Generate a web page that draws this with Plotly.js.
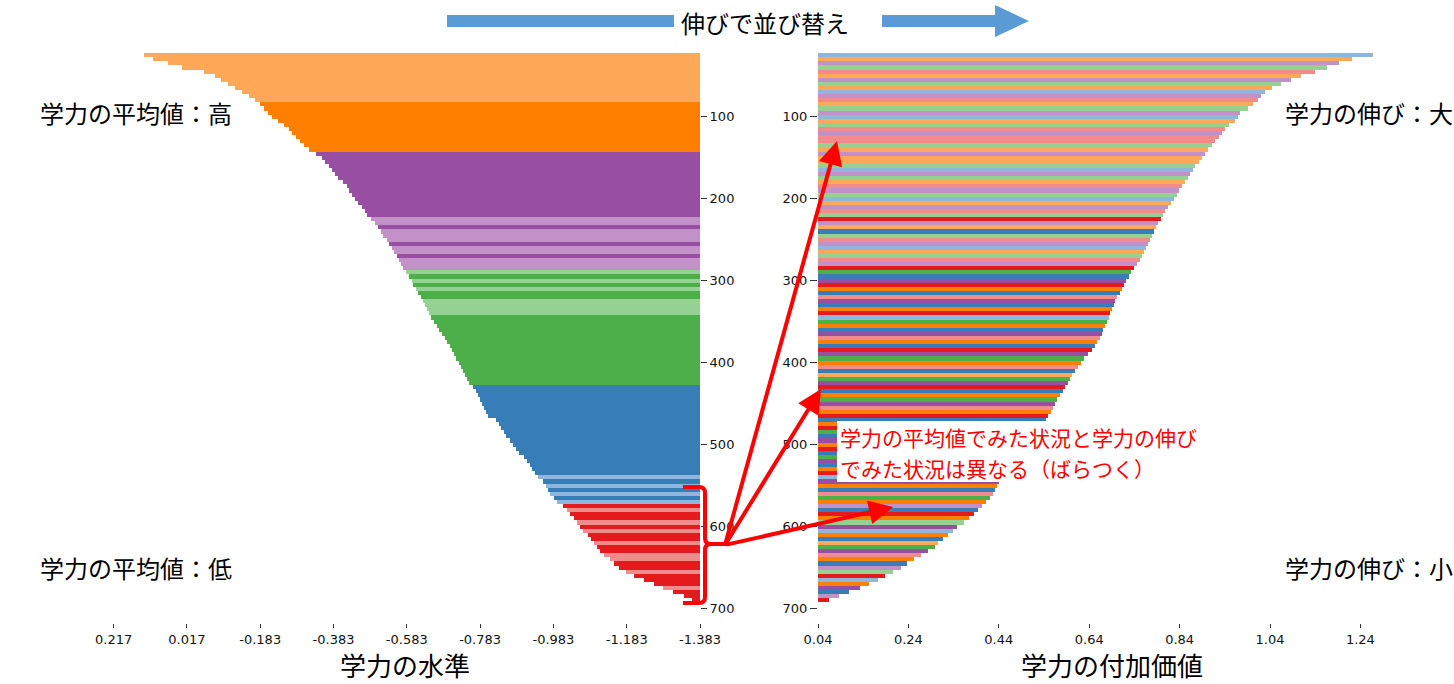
<!DOCTYPE html>
<html>
<head>
<meta charset="utf-8">
<script src="https://cdn.plot.ly/plotly-3.0.1.min.js"></script>
<style>html,body{margin:0;padding:0;background:#fff;}#chart{width:1454px;height:684px;}</style>
</head>
<body>
<div id="chart"></div>
<script>
// ---- data ----
const rank = [25,30,35,40,45,50,55,60,65,70,
75,80,85,90,95,100,105,110,115,120,
125,130,135,140,145,150,155,160,165,170,
175,180,185,190,195,200,205,210,215,220,
225,230,235,240,245,250,255,260,265,270,
275,280,285,290,295,300,305,310,315,320,
325,330,335,340,345,350,355,360,365,370,
375,380,385,390,395,400,405,410,415,420,
425,430,435,440,445,450,455,460,465,470,
475,480,485,490,495,500,505,510,515,520,
525,530,535,540,545,550,555,560,565,570,
575,580,585,590,595,600,605,610,615,620,
625,630,635,640,645,650,655,660,665,670,
675,680,685,690];

// 学力の水準 (sorted by level)
const levelValues = [0.134,0.110,0.069,0.030,-0.030,-0.060,-0.076,-0.095,-0.114,-0.133,
-0.152,-0.169,-0.182,-0.193,-0.204,-0.215,-0.232,-0.248,-0.262,-0.270,
-0.281,-0.292,-0.303,-0.316,-0.335,-0.352,-0.360,-0.371,-0.379,-0.387,
-0.395,-0.409,-0.420,-0.425,-0.434,-0.442,-0.450,-0.461,-0.469,-0.474,
-0.485,-0.496,-0.504,-0.513,-0.518,-0.529,-0.534,-0.543,-0.548,-0.556,
-0.562,-0.567,-0.573,-0.581,-0.589,-0.597,-0.600,-0.608,-0.614,-0.622,
-0.627,-0.633,-0.638,-0.644,-0.649,-0.657,-0.665,-0.671,-0.679,-0.687,
-0.693,-0.701,-0.706,-0.712,-0.717,-0.725,-0.731,-0.736,-0.742,-0.747,
-0.753,-0.764,-0.772,-0.777,-0.783,-0.788,-0.794,-0.799,-0.805,-0.826,
-0.835,-0.840,-0.848,-0.854,-0.865,-0.873,-0.881,-0.889,-0.903,-0.911,
-0.919,-0.925,-0.933,-0.941,-0.955,-0.963,-0.968,-0.974,-0.985,-0.993,
-1.009,-1.020,-1.028,-1.039,-1.047,-1.056,-1.064,-1.077,-1.086,-1.094,
-1.102,-1.110,-1.121,-1.137,-1.148,-1.162,-1.181,-1.203,-1.230,-1.258,
-1.282,-1.309,-1.339,-1.361];

// 学力の付加価値 (sorted by growth)
const growthValues = [1.268,1.221,1.193,1.166,1.140,1.109,1.086,1.064,1.044,1.029,
1.020,1.013,1.002,0.991,0.974,0.969,0.963,0.949,0.940,0.934,
0.927,0.918,0.912,0.903,0.896,0.890,0.883,0.874,0.870,0.863,
0.859,0.852,0.845,0.839,0.834,0.828,0.821,0.814,0.808,0.803,
0.799,0.792,0.788,0.783,0.779,0.775,0.770,0.766,0.761,0.757,
0.752,0.746,0.739,0.732,0.728,0.721,0.717,0.713,0.708,0.702,
0.697,0.695,0.690,0.686,0.684,0.679,0.675,0.671,0.668,0.664,
0.657,0.653,0.646,0.637,0.628,0.622,0.615,0.609,0.602,0.598,
0.593,0.586,0.582,0.575,0.569,0.564,0.560,0.555,0.549,0.544,
0.540,0.531,0.522,0.513,0.505,0.496,0.489,0.482,0.474,0.467,
0.460,0.454,0.449,0.445,0.440,0.436,0.432,0.427,0.421,0.412,
0.403,0.394,0.385,0.374,0.363,0.348,0.339,0.328,0.317,0.305,
0.299,0.283,0.268,0.252,0.237,0.224,0.206,0.188,0.173,0.153,
0.133,0.109,0.086,0.064];

// group index per row (0 red,1 light red,2 blue,3 light blue,4 green,5 light green,6 purple,7 light purple,8 orange,9 light orange)
const levelGroups = [9,9,9,9,9,9,9,9,9,9,9,9,
8,8,8,8,8,8,8,8,8,8,8,8,
6,6,6,6,6,6,6,6,6,6,6,6,6,6,6,6,
7,7,6,7,7,7,6,7,7,6,7,7,7,
5,4,5,4,5,4,4,5,5,5,5,
4,4,4,4,4,4,4,4,4,4,4,4,4,4,4,4,4,
2,2,2,2,2,2,2,2,2,2,2,2,2,2,2,2,2,2,2,2,2,2,
3,2,3,2,3,2,3,
0,1,0,0,1,0,1,0,0,1,0,0,1,1,0,0,1,0,0,0,1,0,0,0];

const growthGroups = [3,9,7,5,1,9,7,5,9,3,
7,1,9,5,7,3,9,5,1,7,
1,1,5,9,7,9,9,5,3,7,
5,9,1,7,5,3,9,7,1,5,
0,7,9,2,5,1,7,3,9,5,
1,7,0,4,2,6,0,8,2,1,
6,2,8,0,3,4,8,2,6,1,
8,2,0,6,4,8,1,2,9,4,
6,0,2,8,4,6,1,8,0,2,
8,0,4,2,6,8,0,2,4,6,
2,8,0,3,6,8,2,1,4,8,
7,2,0,8,5,6,3,8,2,9,
4,6,1,8,2,7,5,0,3,8,
6,2,7,0];

const groupColors = ['#e41a1c','#f18b8c','#377eb8','#8fb6dc','#4daf4a','#94d192','#984ea3','#c291c8','#ff7f00','#ffa958'];

const levelTicks = [0.217,0.017,-0.183,-0.383,-0.583,-0.783,-0.983,-1.183,-1.383];
const levelTickText = ['0.217','0.017','-0.183','-0.383','-0.583','-0.783','-0.983','-1.183','-1.383'];
const growthTicks = [0.04,0.24,0.44,0.64,0.84,1.04,1.24];
const growthTickText = ['0.04','0.24','0.44','0.64','0.84','1.04','1.24'];
const rankTicks = [100,200,300,400,500,600,700];

// ---- layout helpers (pixel -> paper) ----
const W = 1454, H = 684;
const px = x => x / W;
const py = y => 1 - y / H;

const levelBase = -1.383;
const growthBase = 0.04;

const traces = [
  {
    type: 'bar', orientation: 'h',
    y: rank,
    x: levelValues.map(v => v - levelBase),
    base: levelBase,
    width: 5,
    marker: {color: levelGroups.map(g => groupColors[g]), line: {width: 0}},
    xaxis: 'x', yaxis: 'y', hoverinfo: 'skip'
  },
  {
    type: 'bar', orientation: 'h',
    y: rank,
    x: growthValues.map(v => v - growthBase),
    base: growthBase,
    width: 5,
    marker: {color: growthGroups.map(g => groupColors[g]), line: {width: 0}},
    xaxis: 'x2', yaxis: 'y2', hoverinfo: 'skip'
  }
];

const tickFont = {family: 'DejaVu Sans', size: 13, color: '#111'};
const jp = 'Noto Sans CJK JP';
const yDom = [py(625), py(40)];
const yRange = [720, 6.5];

const commonAxis = {showgrid: false, zeroline: false, showline: false, ticks: 'outside', ticklen: 5, tickwidth: 1, tickcolor: '#333', tickfont: tickFont};

const layout = {
  width: W, height: H,
  margin: {l: 0, r: 0, t: 0, b: 0, pad: 0},
  paper_bgcolor: '#fff', plot_bgcolor: '#fff',
  showlegend: false,
  bargap: 0,
  font: {family: jp},
  xaxis: Object.assign({}, commonAxis, {
    domain: [px(40), px(700)], range: [-1.383 + 660/366.5, -1.383],
    tickvals: levelTicks, ticktext: levelTickText,
    anchor: 'free', position: py(623), ticklen: 4
  }),
  yaxis: Object.assign({}, commonAxis, {
    domain: yDom, range: yRange, anchor: 'x', side: 'right',
    tickvals: rankTicks, ticklen: 6
  }),
  xaxis2: Object.assign({}, commonAxis, {
    domain: [px(818), 1], range: [0.04, 0.04 + 636/452],
    tickvals: growthTicks, ticktext: growthTickText,
    anchor: 'free', position: py(623), ticklen: 4
  }),
  yaxis2: Object.assign({}, commonAxis, {
    domain: yDom, range: yRange, anchor: 'x2', side: 'left',
    tickvals: rankTicks, ticklen: 7
  }),
  shapes: [
    // blue arrow at top
    {type: 'rect', xref: 'paper', yref: 'paper', x0: px(447), x1: px(674), y0: py(27), y1: py(15), fillcolor: '#5b9bd5', line: {width: 0}},
    {type: 'rect', xref: 'paper', yref: 'paper', x0: px(882), x1: px(996), y0: py(27), y1: py(15), fillcolor: '#5b9bd5', line: {width: 0}},
    {type: 'path', xref: 'paper', yref: 'paper',
      path: `M ${px(995)} ${py(5)} L ${px(1029)} ${py(21)} L ${px(995)} ${py(37)} Z`,
      fillcolor: '#5b9bd5', line: {width: 0}},
    // white box behind annotation
    {type: 'rect', xref: 'paper', yref: 'paper', layer: 'above', x0: px(837), x1: px(1242), y0: py(482), y1: py(421), fillcolor: '#ffffff', line: {width: 0}},
    // red bracket
    {type: 'path', xref: 'paper', yref: 'paper', layer: 'above',
      path: `M ${px(683)} ${py(487)} L ${px(699)} ${py(487)} Q ${px(705)} ${py(487)} ${px(705)} ${py(493)} L ${px(705)} ${py(538)} Q ${px(705)} ${py(544)} ${px(711)} ${py(544)} L ${px(727)} ${py(544)} M ${px(711)} ${py(544)} Q ${px(705)} ${py(544)} ${px(705)} ${py(550)} L ${px(705)} ${py(597)} Q ${px(705)} ${py(603)} ${px(699)} ${py(603)} L ${px(683)} ${py(603)}`,
      line: {color: '#ff0000', width: 4}}
  ],
  annotations: [
    {xref: 'paper', yref: 'paper', x: px(765), y: py(22), text: '伸びで並び替え', showarrow: false, xanchor: 'center', yanchor: 'middle', font: {family: jp, size: 24, color: '#000'}},
    {xref: 'paper', yref: 'paper', x: px(38), y: py(112), text: '学力の平均値：高', showarrow: false, xanchor: 'left', yanchor: 'middle', font: {family: jp, size: 24, color: '#000'}},
    {xref: 'paper', yref: 'paper', x: px(38), y: py(567), text: '学力の平均値：低', showarrow: false, xanchor: 'left', yanchor: 'middle', font: {family: jp, size: 24, color: '#000'}},
    {xref: 'paper', yref: 'paper', x: px(1283), y: py(112), text: '学力の伸び：大', showarrow: false, xanchor: 'left', yanchor: 'middle', font: {family: jp, size: 24, color: '#000'}},
    {xref: 'paper', yref: 'paper', x: px(1283), y: py(567), text: '学力の伸び：小', showarrow: false, xanchor: 'left', yanchor: 'middle', font: {family: jp, size: 24, color: '#000'}},
    {xref: 'paper', yref: 'paper', x: px(405), y: 0, text: '学力の水準', showarrow: false, xanchor: 'center', yanchor: 'bottom', borderpad: 0, font: {family: jp, size: 26, color: '#000'}},
    {xref: 'paper', yref: 'paper', x: px(1112), y: 0, text: '学力の付加価値', showarrow: false, xanchor: 'center', yanchor: 'bottom', borderpad: 0, font: {family: jp, size: 26, color: '#000'}},
    {xref: 'paper', yref: 'paper', x: px(839), y: py(437), text: '学力の平均値でみた状況と学力の伸び', showarrow: false, xanchor: 'left', yanchor: 'middle', borderpad: 0, font: {family: jp, size: 21, color: '#ff0000'}},
    {xref: 'paper', yref: 'paper', x: px(839), y: py(468), text: 'でみた状況は異なる（ばらつく）', showarrow: false, xanchor: 'left', yanchor: 'middle', borderpad: 0, font: {family: jp, size: 21, color: '#ff0000'}},
    // red arrows
    {xref: 'paper', yref: 'paper', x: px(837), y: py(141), ax: 725 - 837, ay: 545 - 141, text: '', showarrow: true, arrowhead: 2, arrowsize: 1.2, arrowwidth: 4, arrowcolor: '#ff0000', standoff: 0},
    {xref: 'paper', yref: 'paper', x: px(821), y: py(389), ax: 725 - 821, ay: 545 - 389, text: '', showarrow: true, arrowhead: 2, arrowsize: 1.2, arrowwidth: 4, arrowcolor: '#ff0000', standoff: 0},
    {xref: 'paper', yref: 'paper', x: px(893), y: py(507), ax: 725 - 893, ay: 545 - 507, text: '', showarrow: true, arrowhead: 2, arrowsize: 1.2, arrowwidth: 4, arrowcolor: '#ff0000', standoff: 0}
  ]
};

Plotly.newPlot('chart', traces, layout, {displayModeBar: false, staticPlot: true});
</script>
</body>
</html>
